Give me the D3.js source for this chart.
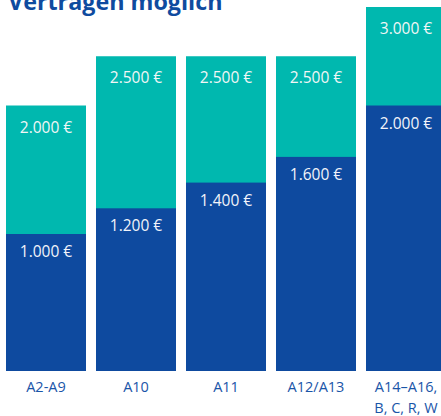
<!DOCTYPE html>
<html>
<head>
<meta charset="utf-8">
<script src="https://cdn.jsdelivr.net/npm/d3@7"></script>
<style>
  body { margin: 0; background: #fff; }
  svg { display: block; font-family: "Open Sans", sans-serif; }
</style>
</head>
<body>
<div id="chart"></div>
<script>
// data
const categories = ['A2-A9', 'A10', 'A11', 'A12/A13', 'A14–A16,\nB, C, R, W'];
const baseValues = [1000, 1200, 1400, 1600, 2000];
const maxValues = [2000, 2500, 2500, 2500, 3000];
const title = 'Verträgen möglich';

const width = 441, height = 416;
const fmt = v => d3.format(',')(v).replace(/,/g, '.') + ' €';

const svg = d3.select('#chart').append('svg')
    .attr('width', width)
    .attr('height', height);

const x = d3.scaleBand().domain(categories).range([6, 446]).paddingInner(1 / 9).paddingOuter(0);
// the infographic is not drawn to a linear scale, so use a piecewise one
const y = d3.scaleLinear().domain([0, 1000, 2000, 3000]).range([371, 234, 105.5, 7]);

svg.append('text')
    .attr('x', 8)
    .attr('y', 10)
    .attr('fill', '#0f4b9f')
    .attr('font-size', 23.3)
    .attr('font-weight', 'bold')
    .text(title);

const bars = svg.selectAll('.bar')
    .data(categories.map((c, i) => ({ cat: c, base: baseValues[i], max: maxValues[i] })))
    .enter().append('g')
    .attr('class', 'bar');

bars.append('rect')
    .attr('x', d => x(d.cat))
    .attr('y', d => y(d.max))
    .attr('width', x.bandwidth())
    .attr('height', d => y(0) - y(d.max))
    .attr('fill', '#00b8af');

bars.append('rect')
    .attr('x', d => x(d.cat))
    .attr('y', d => y(d.base))
    .attr('width', x.bandwidth())
    .attr('height', d => y(0) - y(d.base))
    .attr('fill', '#0e4a9f');

bars.append('text')
    .attr('x', d => x(d.cat) + x.bandwidth() / 2)
    .attr('y', d => y(d.max) + 27)
    .attr('text-anchor', 'middle')
    .attr('fill', '#f2f6f6')
    .attr('font-size', 15.5)
    .text(d => fmt(d.max));

bars.append('text')
    .attr('x', d => x(d.cat) + x.bandwidth() / 2)
    .attr('y', d => y(d.base) + 23)
    .attr('text-anchor', 'middle')
    .attr('fill', '#f2f4fa')
    .attr('font-size', 15.5)
    .text(d => fmt(d.base));

const xAxis = svg.append('g')
    .attr('transform', `translate(0, ${y(0)})`)
    .call(d3.axisBottom(x).tickSize(0).tickPadding(0));
xAxis.select('.domain').remove();
xAxis.selectAll('.tick text').remove();
xAxis.selectAll('.tick').each(function(d) {
    const lines = d.split('\n');
    d3.select(this).append('text')
        .attr('text-anchor', 'middle')
        .attr('fill', '#1a55a8')
        .attr('font-size', 14.5)
        .attr('font-family', '"Open Sans", sans-serif')
        .selectAll('tspan')
        .data(lines)
        .enter().append('tspan')
        .attr('x', 0)
        .attr('y', (l, i) => 21 + i * 21)
        .text(l => l);
});
</script>
</body>
</html>
